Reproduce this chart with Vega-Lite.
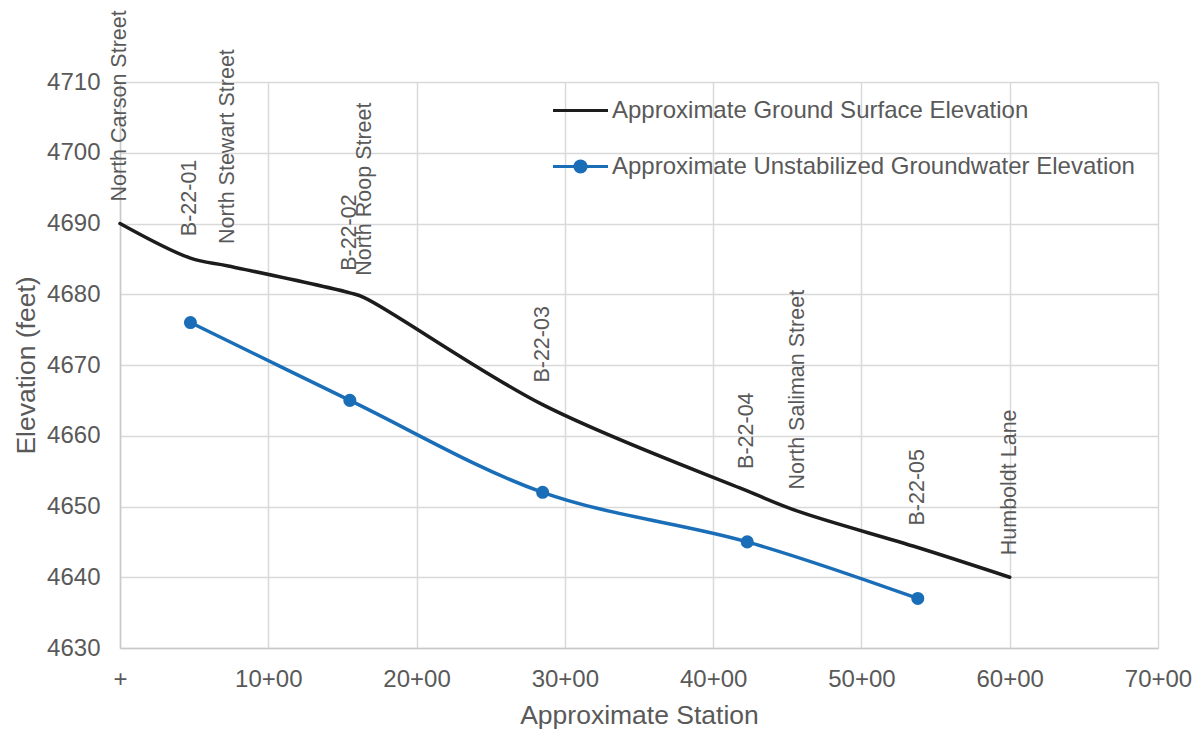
{
  "$schema": "https://vega.github.io/schema/vega-lite/v6.json",
  "width": 1038,
  "height": 566,
  "autosize": {"type": "none"},
  "padding": {"left": 120, "top": 82, "right": 40, "bottom": 82},
  "background": "white",
  "config": {
    "font": "Liberation Sans",
    "view": {"stroke": null},
    "axis": {
      "gridColor": "#d9d9d9",
      "gridWidth": 1.5,
      "domainColor": "#c9c9c9",
      "domainWidth": 1.5,
      "ticks": false,
      "tickSize": 0,
      "labelFlush": false,
      "labelFont": "Liberation Sans",
      "labelFontSize": 24,
      "labelColor": "#595959",
      "titleFont": "Liberation Sans",
      "titleFontSize": 26.5,
      "titleFontWeight": "normal",
      "titleColor": "#595959"
    }
  },
  "datasets": {
    "profile": [
      {"series": "Approximate Ground Surface Elevation", "station": 0, "elevation": 4690, "label": "North Carson Street"},
      {"series": "Approximate Ground Surface Elevation", "station": 475, "elevation": 4685.1, "label": "B-22-01"},
      {"series": "Approximate Ground Surface Elevation", "station": 730, "elevation": 4684.0, "label": "North Stewart Street"},
      {"series": "Approximate Ground Surface Elevation", "station": 1550, "elevation": 4680.2, "label": "B-22-02"},
      {"series": "Approximate Ground Surface Elevation", "station": 1650, "elevation": 4679.5, "label": "North Roop Street"},
      {"series": "Approximate Ground Surface Elevation", "station": 2850, "elevation": 4664.4, "label": "B-22-03"},
      {"series": "Approximate Ground Surface Elevation", "station": 4230, "elevation": 4652.2, "label": "B-22-04"},
      {"series": "Approximate Ground Surface Elevation", "station": 4575, "elevation": 4649.3, "label": "North Saliman Street"},
      {"series": "Approximate Ground Surface Elevation", "station": 5380, "elevation": 4644.2, "label": "B-22-05"},
      {"series": "Approximate Ground Surface Elevation", "station": 6000, "elevation": 4640, "label": "Humboldt Lane"},
      {"series": "Approximate Unstabilized Groundwater Elevation", "station": 475, "elevation": 4676},
      {"series": "Approximate Unstabilized Groundwater Elevation", "station": 1550, "elevation": 4665},
      {"series": "Approximate Unstabilized Groundwater Elevation", "station": 2850, "elevation": 4652},
      {"series": "Approximate Unstabilized Groundwater Elevation", "station": 4230, "elevation": 4645},
      {"series": "Approximate Unstabilized Groundwater Elevation", "station": 5380, "elevation": 4637}
    ]
  },
  "data": {"name": "profile"},
  "encoding": {
    "x": {
      "field": "station",
      "type": "quantitative",
      "scale": {"domain": [0, 7000], "nice": false, "zero": false},
      "axis": {
        "title": "Approximate Station",
        "values": [0, 1000, 2000, 3000, 4000, 5000, 6000, 7000],
        "labelExpr": "datum.value === 0 ? '+' : format(datum.value / 100, 'd') + '+00'",
        "labelBaseline": "alphabetic",
        "labelPadding": 38,
        "titleBaseline": "alphabetic",
        "titleY": 75,
        "titleX": 519
      }
    },
    "y": {
      "field": "elevation",
      "type": "quantitative",
      "scale": {"domain": [4630, 4710], "nice": false, "zero": false},
      "axis": {
        "title": "Elevation (feet)",
        "format": "d",
        "values": [4630, 4640, 4650, 4660, 4670, 4680, 4690, 4700, 4710],
        "labelPadding": 20,
        "titleBaseline": "alphabetic",
        "titleAngle": -90,
        "titleX": -86,
        "titleY": 283,
        "titleAlign": "center"
      }
    }
  },
  "layer": [
    {
      "mark": {"type": "line", "interpolate": "catmull-rom", "strokeWidth": 3.5, "strokeCap": "round", "strokeJoin": "round"},
      "encoding": {
        "color": {
          "field": "series",
          "type": "nominal",
          "scale": {
            "domain": ["Approximate Ground Surface Elevation", "Approximate Unstabilized Groundwater Elevation"],
            "range": ["#1c1c1c", "#1a6eb8"]
          },
          "legend": {
            "title": null,
            "orient": "none",
            "legendX": 431,
            "legendY": -1,
            "padding": 0,
            "rowPadding": 14,
            "symbolSize": 3025,
            "symbolStrokeWidth": 3.2,
            "labelFont": "Liberation Sans",
            "labelFontSize": 24,
            "labelColor": "#595959",
            "labelOffset": 2,
            "labelLimit": 0,
            "encode": {
              "symbols": {
                "update": {
                  "shape": {"signal": "datum.value === 'Approximate Ground Surface Elevation' ? 'M-1,0H1' : 'M-1,0H1M0.2,0A0.2,0.2,0,1,1,-0.2,0A0.2,0.2,0,1,1,0.2,0Z'"},
                  "fill": {"signal": "datum.value === 'Approximate Ground Surface Elevation' ? 'transparent' : '#1a6eb8'"},
                  "stroke": {"signal": "datum.value === 'Approximate Ground Surface Elevation' ? '#1c1c1c' : '#1a6eb8'"},
                  "size": {"value": 3025},
                  "opacity": {"value": 1}
                }
              }
            }
          }
        }
      }
    },
    {
      "transform": [{"filter": "datum.series === 'Approximate Unstabilized Groundwater Elevation'"}],
      "mark": {"type": "point", "filled": true, "color": "#1a6eb8", "size": 170, "opacity": 1}
    },
    {
      "transform": [{"filter": "isValid(datum.label)"}],
      "mark": {
        "type": "text",
        "angle": 270,
        "align": "left",
        "baseline": "middle",
        "dx": 22,
        "font": "Liberation Sans",
        "fontSize": 21.5,
        "color": "#595959"
      },
      "encoding": {"text": {"field": "label"}}
    }
  ]
}
